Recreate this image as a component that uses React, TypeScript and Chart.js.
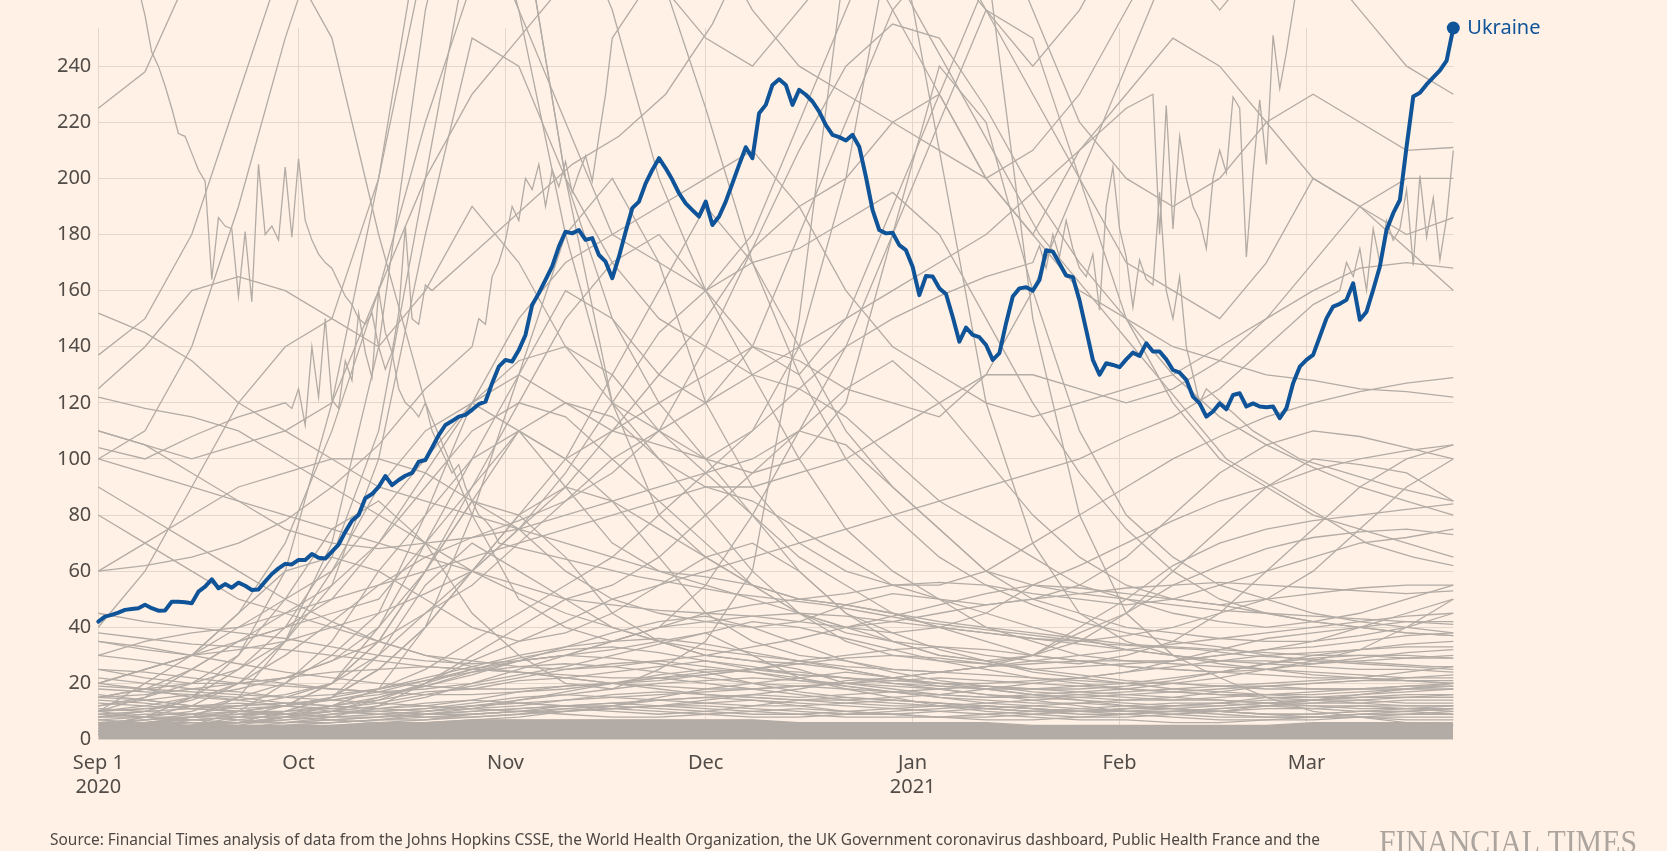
import { useEffect, useRef } from 'react';
import { Chart, registerables } from 'chart.js';

Chart.register(...registerables);

const BG = '#fff1e5';
const BLUE = '#0f5499';
const GREY = '#b3aba5';
const GRID = '#e3d6cb';
const TXT = '#524c48';

// x axis: day index from Sep 1 2020
const xTickDays = [0, 30, 61, 91, 122, 153, 181];
const xTickLabels: (string | string[])[] = [['Sep 1', '2020'], 'Oct', 'Nov', 'Dec', ['Jan', '2021'], 'Feb', 'Mar'];
const yTicks = [0, 20, 40, 60, 80, 100, 120, 140, 160, 180, 200, 220, 240];

// Ukraine, daily from Sep 1 2020 to Mar 23 2021
const ukraine = [
  42.0, 43.8, 44.4, 45.2, 46.2, 46.5, 46.8, 48.0, 46.8, 45.9,
  46.0, 49.1, 49.1, 48.9, 48.6, 52.7, 54.5, 57.1, 53.9, 55.4,
  54.1, 55.9, 54.8, 53.3, 53.5, 56.3, 59.0, 61.0, 62.6, 62.4,
  64.0, 64.0, 66.1, 64.8, 64.5, 67.0, 69.5, 74.0, 78.0, 80.0,
  86.0, 87.5, 90.0, 93.9, 90.7, 92.5, 94.0, 95.0, 99.0, 99.6,
  104.0, 108.5, 112.1, 113.5, 115.1, 115.7, 117.5, 119.5, 120.4, 127.0,
  132.9, 135.3, 134.7, 138.8, 144.2, 154.9, 159.1, 163.8, 168.6, 175.7,
  181.0, 180.4, 181.6, 178.1, 178.7, 172.7, 170.3, 164.4, 172.1, 181.0,
  189.4, 191.7, 198.2, 203.0, 207.2, 203.6, 199.5, 194.7, 191.1, 188.7,
  186.4, 191.7, 183.4, 186.4, 191.7, 198.2, 204.8, 211.1, 207.2, 223.2,
  226.2, 233.3, 235.3, 233.3, 226.2, 231.6, 229.8, 227.4, 223.8, 219.0,
  215.5, 214.7, 213.5, 215.5, 211.3, 200.6, 188.7, 181.6, 180.4, 180.6,
  176.2, 174.4, 168.5, 158.4, 165.2, 165.0, 160.8, 158.8, 150.7, 141.8,
  146.8, 144.2, 143.4, 140.6, 135.3, 137.7, 148.4, 157.9, 160.8, 161.2,
  160.0, 163.8, 174.4, 173.9, 169.7, 165.4, 164.8, 156.5, 146.0, 135.3,
  130.0, 134.1, 133.5, 132.7, 135.5, 137.9, 136.7, 141.2, 138.3, 138.3,
  135.5, 131.7, 130.8, 128.2, 122.2, 119.8, 115.1, 116.9, 119.8, 117.7,
  122.8, 123.4, 118.7, 119.8, 118.7, 118.4, 118.7, 114.5, 118.1, 127.0,
  132.9, 135.3, 137.1, 143.6, 150.1, 154.3, 155.3, 156.7, 162.6, 149.6,
  152.5, 160.3, 168.6, 181.6, 187.6, 192.3, 211.3, 229.2, 230.5, 233.5,
  236.0, 238.5, 242.0, 253.6,
];

// Other countries, sampled weekly
const greyDays = [0, 7, 14, 21, 28, 35, 42, 49, 56, 63, 70, 77, 84, 91, 98, 105, 112, 119, 126, 133, 140, 147, 154, 161, 168, 175, 182, 189, 196, 203];

const g01 = [225, 238, 275, 320, 340, 350, 350, 340, 330, 320, 310, 300, 275, 225, 170, 130, 100, 80, 65, 55, 48, 42, 38, 35, 33, 30, 28, 27, 26, 25];
const g03 = [8, 10, 14, 20, 30, 42, 55, 65, 72, 78, 85, 95, 110, 140, 175, 210, 240, 255, 250, 225, 195, 170, 150, 130, 115, 105, 97, 90, 85, 80];
const g04 = [8, 10, 15, 25, 40, 65, 110, 200, 290, 320, 300, 260, 200, 160, 140, 130, 150, 190, 230, 270, 300, 320, 300, 280, 260, 280, 320, 340, 330, 320];
const g05 = [5, 8, 12, 20, 35, 70, 140, 260, 330, 300, 200, 120, 80, 65, 55, 50, 48, 45, 40, 38, 36, 35, 37, 40, 45, 50, 60, 75, 90, 100];
const g06 = [20, 25, 30, 45, 70, 110, 160, 220, 270, 300, 310, 290, 270, 250, 240, 260, 280, 300, 290, 260, 230, 200, 170, 160, 150, 170, 200, 190, 175, 160];
const g07 = [15, 18, 20, 25, 35, 55, 100, 180, 250, 240, 200, 170, 150, 140, 130, 125, 115, 100, 85, 75, 65, 55, 50, 45, 42, 40, 42, 45, 50, 55];
const g08 = [3, 5, 8, 15, 35, 60, 90, 110, 120, 110, 100, 110, 130, 150, 175, 190, 200, 220, 230, 200, 180, 210, 230, 250, 240, 220, 200, 190, 180, 186];
const g09 = [35, 32, 30, 32, 35, 40, 45, 52, 60, 75, 95, 120, 145, 160, 170, 175, 185, 195, 180, 150, 120, 95, 75, 60, 50, 45, 42, 40, 38, 37];
const g10 = [152, 145, 135, 120, 110, 100, 90, 85, 80, 75, 70, 65, 60, 58, 55, 50, 48, 45, 42, 40, 38, 36, 34, 33, 32, 31, 30, 30, 29, 29];
const g11 = [137, 150, 180, 230, 280, 250, 180, 120, 80, 50, 40, 35, 40, 55, 80, 110, 140, 180, 220, 260, 250, 200, 150, 120, 100, 90, 80, 75, 70, 65];
const g12 = [125, 140, 160, 165, 160, 150, 140, 160, 190, 170, 140, 120, 110, 100, 95, 100, 120, 180, 240, 220, 160, 110, 80, 65, 55, 50, 45, 42, 40, 38];
const g13 = [40, 60, 90, 120, 140, 150, 200, 280, 320, 260, 180, 120, 100, 90, 90, 95, 100, 110, 120, 130, 130, 125, 120, 125, 135, 150, 170, 190, 200, 200];
const g14 = [110, 105, 100, 105, 110, 120, 160, 200, 230, 250, 270, 290, 310, 290, 260, 240, 230, 220, 210, 200, 210, 230, 260, 290, 320, 330, 320, 300, 290, 280];
const g15 = [100, 110, 140, 190, 250, 300, 320, 330, 300, 260, 220, 180, 170, 160, 180, 220, 260, 300, 320, 300, 260, 220, 200, 190, 200, 220, 230, 220, 210, 211];
const g16 = [15, 18, 25, 35, 45, 55, 70, 95, 120, 130, 120, 110, 105, 100, 110, 140, 200, 290, 340, 280, 150, 80, 45, 30, 22, 15, 10, 8, 6, 5];
const g17 = [12, 15, 20, 30, 50, 75, 85, 70, 45, 30, 20, 18, 25, 35, 60, 150, 280, 300, 210, 120, 70, 45, 35, 30, 27, 25, 23, 22, 21, 20];
const g18 = [8, 8, 10, 15, 20, 30, 45, 80, 120, 150, 170, 180, 190, 200, 210, 190, 160, 140, 130, 120, 115, 120, 125, 130, 140, 150, 160, 168, 170, 168];
const g19 = [5, 6, 8, 10, 12, 20, 30, 45, 60, 75, 90, 110, 120, 130, 140, 135, 125, 120, 115, 130, 160, 200, 240, 280, 320, 360, 380, 370, 350, 330];
const g20 = [10, 15, 25, 35, 40, 50, 70, 90, 110, 120, 115, 100, 85, 70, 55, 45, 40, 38, 40, 45, 55, 62, 70, 78, 85, 90, 96, 100, 103, 105];
const g21 = [10, 8, 6, 6, 8, 12, 18, 40, 80, 130, 180, 200, 170, 120, 90, 70, 60, 55, 55, 60, 70, 80, 90, 100, 108, 115, 120, 124, 127, 129];
const g22 = [10, 20, 30, 45, 60, 65, 60, 50, 40, 35, 38, 45, 55, 65, 70, 60, 45, 35, 30, 28, 25, 26, 27, 28, 30, 32, 33, 35, 37, 38];
const g23 = [5, 7, 9, 12, 15, 20, 35, 60, 85, 80, 65, 45, 35, 30, 28, 25, 20, 18, 16, 15, 16, 17, 18, 20, 22, 25, 27, 29, 31, 32];
const g24 = [4, 6, 8, 10, 12, 15, 30, 55, 70, 60, 50, 40, 35, 30, 28, 27, 25, 22, 20, 20, 21, 22, 24, 28, 32, 36, 38, 40, 42, 42];
const g25 = [3, 4, 5, 6, 8, 10, 15, 20, 25, 28, 30, 32, 35, 38, 30, 22, 18, 15, 12, 10, 9, 8, 8, 9, 10, 12, 14, 16, 18, 19];
const g26 = [3, 4, 5, 8, 12, 20, 40, 70, 100, 110, 90, 70, 60, 55, 50, 45, 38, 35, 33, 30, 28, 27, 30, 35, 45, 60, 75, 90, 100, 105];
const g27 = [20, 25, 30, 35, 40, 45, 50, 70, 90, 120, 150, 170, 180, 160, 130, 100, 75, 60, 50, 40, 35, 30, 28, 28, 30, 32, 35, 40, 45, 50];
const g28 = [3, 4, 5, 6, 10, 15, 25, 40, 60, 80, 100, 130, 160, 190, 170, 140, 110, 90, 75, 60, 50, 45, 40, 38, 36, 35, 35, 37, 40, 45];
const g29 = [2, 3, 3, 4, 6, 8, 12, 20, 30, 40, 50, 55, 65, 80, 95, 110, 105, 90, 75, 60, 55, 52, 50, 48, 46, 45, 44, 43, 42, 41];
const g30 = [45, 42, 40, 38, 36, 33, 30, 28, 27, 28, 30, 35, 40, 45, 48, 50, 52, 55, 56, 55, 52, 50, 48, 50, 55, 60, 65, 70, 72, 75];
const g31 = [60, 70, 80, 90, 95, 100, 100, 95, 85, 75, 60, 50, 45, 42, 40, 42, 48, 52, 50, 45, 40, 36, 32, 30, 28, 28, 27, 28, 29, 30];
const g32 = [100, 95, 90, 85, 80, 75, 70, 65, 60, 55, 50, 48, 46, 45, 44, 42, 40, 42, 45, 48, 50, 52, 54, 55, 56, 55, 54, 53, 52, 53];
const g33 = [110, 105, 95, 85, 75, 70, 68, 70, 72, 75, 80, 85, 90, 95, 100, 110, 125, 135, 120, 100, 80, 65, 55, 50, 48, 45, 42, 40, 38, 37];
const g34 = [20, 25, 30, 40, 50, 60, 80, 100, 120, 135, 140, 130, 110, 95, 80, 65, 55, 45, 40, 35, 30, 28, 26, 25, 24, 25, 28, 32, 40, 50];
const g35 = [2, 3, 5, 10, 20, 35, 60, 80, 100, 130, 160, 150, 120, 100, 80, 60, 45, 38, 32, 28, 24, 22, 20, 18, 17, 16, 16, 17, 18, 20];
const g36 = [30, 35, 38, 40, 45, 50, 55, 60, 65, 70, 75, 80, 85, 90, 85, 75, 65, 55, 50, 48, 50, 55, 65, 80, 95, 105, 110, 108, 104, 100];
const g37 = [20, 18, 15, 14, 16, 20, 35, 60, 90, 110, 100, 85, 75, 65, 55, 45, 40, 35, 30, 28, 30, 35, 45, 60, 75, 90, 100, 98, 95, 85];
const g38 = [5, 6, 7, 8, 10, 15, 25, 40, 60, 80, 90, 85, 65, 45, 35, 30, 28, 25, 24, 26, 30, 40, 50, 62, 70, 75, 78, 80, 82, 84];
const g39 = [25, 22, 20, 20, 22, 28, 40, 60, 85, 110, 120, 115, 100, 80, 60, 45, 35, 30, 28, 27, 30, 38, 45, 55, 62, 68, 72, 74, 75, 73];
const g40 = [15, 14, 12, 10, 9, 10, 12, 15, 20, 25, 30, 35, 40, 42, 44, 45, 44, 42, 40, 38, 36, 34, 32, 30, 28, 27, 26, 25, 25, 24];
const g41 = [38, 36, 34, 33, 32, 30, 28, 26, 25, 24, 23, 22, 22, 23, 25, 28, 30, 32, 33, 32, 30, 28, 26, 25, 24, 23, 22, 22, 21, 21];
const g42 = [80, 70, 60, 50, 45, 40, 35, 30, 28, 26, 25, 26, 28, 30, 33, 36, 40, 44, 48, 52, 55, 54, 52, 50, 48, 50, 52, 54, 55, 55];
const g43 = [90, 80, 70, 60, 50, 42, 35, 30, 26, 24, 22, 20, 19, 18, 18, 19, 20, 22, 24, 26, 28, 30, 32, 34, 36, 38, 40, 42, 44, 45];
const g44 = [122, 118, 115, 110, 100, 90, 80, 70, 60, 52, 45, 40, 35, 32, 30, 28, 26, 25, 24, 23, 22, 21, 20, 20, 19, 19, 18, 18, 18, 18];
const g45 = [5, 8, 15, 30, 60, 120, 200, 300, 350, 300, 200, 150, 130, 120, 140, 180, 220, 260, 280, 260, 240, 260, 290, 310, 320, 300, 280, 260, 240, 230];

const l01 = [12, 14, 16, 15, 13, 12, 11, 12, 14, 17, 19, 20, 22, 20, 18, 16, 14, 13, 12, 11, 10, 10, 11, 12, 13, 15, 15, 16, 17, 18];
const l02 = [18, 17, 16, 14, 12, 10, 9, 8, 8, 9, 11, 12, 15, 18, 20, 22, 24, 22, 19, 18, 16, 14, 12, 11, 10, 9, 9, 10, 10, 11];
const l03 = [6, 7, 8, 9, 10, 12, 14, 17, 18, 21, 22, 24, 26, 28, 26, 23, 22, 20, 18, 16, 15, 14, 13, 12, 12, 13, 14, 15, 16, 16];
const l04 = [22, 20, 18, 17, 15, 14, 13, 12, 11, 10, 10, 11, 12, 14, 16, 18, 21, 22, 24, 26, 27, 28, 28, 27, 26, 25, 24, 23, 22, 22];
const l05 = [9, 10, 11, 10, 9, 8, 8, 9, 10, 11, 12, 12, 11, 10, 9, 9, 10, 11, 12, 13, 14, 15, 16, 17, 18, 19, 20, 21, 22, 23];
const l06 = [3, 4, 5, 7, 9, 12, 15, 19, 24, 28, 30, 29, 27, 24, 20, 17, 15, 14, 13, 12, 11, 10, 10, 10, 11, 12, 13, 14, 15, 15];
const l07 = [15, 16, 18, 20, 22, 24, 25, 26, 25, 24, 22, 20, 18, 16, 15, 14, 14, 15, 16, 18, 20, 22, 24, 26, 28, 30, 31, 32, 33, 33];
const l08 = [5, 5, 6, 6, 7, 8, 9, 10, 12, 14, 16, 18, 20, 21, 22, 21, 20, 19, 18, 16, 14, 12, 10, 9, 8, 8, 8, 9, 9, 10];
const l09 = [25, 24, 22, 20, 19, 18, 17, 18, 20, 23, 26, 30, 34, 38, 42, 40, 36, 32, 28, 25, 22, 20, 18, 17, 16, 16, 15, 15, 15, 15];
const l10 = [2, 2, 3, 3, 4, 5, 6, 7, 9, 10, 12, 13, 14, 15, 16, 15, 16, 17, 18, 19, 18, 17, 16, 15, 14, 13, 12, 12, 11, 11];
const l11 = [14, 13, 11, 10, 10, 11, 13, 16, 19, 22, 25, 27, 28, 26, 24, 21, 19, 17, 15, 14, 13, 13, 14, 15, 17, 19, 20, 21, 21, 20];
const l12 = [30, 28, 25, 22, 20, 18, 17, 16, 16, 17, 18, 20, 22, 24, 25, 24, 22, 20, 19, 18, 18, 19, 20, 22, 24, 27, 30, 32, 34, 35];
const l13 = [8, 9, 9, 10, 12, 15, 18, 22, 26, 30, 33, 35, 36, 34, 31, 28, 25, 22, 20, 18, 16, 15, 14, 14, 15, 16, 17, 18, 19, 19];
const l14 = [4, 5, 5, 6, 6, 7, 8, 9, 10, 11, 12, 13, 12, 11, 10, 9, 8, 8, 8, 9, 10, 11, 12, 13, 13, 14, 14, 15, 15, 16];
const l15 = [19, 18, 17, 16, 15, 16, 18, 21, 24, 26, 27, 26, 24, 22, 20, 19, 18, 17, 16, 15, 15, 16, 17, 18, 19, 20, 21, 22, 24, 26];
const l16 = [10, 11, 12, 12, 13, 14, 16, 19, 23, 28, 33, 38, 42, 44, 40, 34, 28, 24, 21, 19, 17, 16, 15, 14, 14, 13, 13, 13, 14, 14];
const l17 = [7, 8, 8, 9, 9, 10, 10, 11, 12, 13, 14, 15, 16, 17, 18, 19, 20, 21, 22, 21, 20, 19, 18, 17, 16, 15, 14, 13, 12, 12];
const l18 = [35, 33, 30, 27, 24, 22, 20, 19, 18, 18, 19, 20, 21, 23, 25, 27, 29, 30, 29, 27, 25, 23, 21, 20, 19, 18, 18, 18, 19, 20];
const l19 = [16, 14, 12, 11, 12, 14, 17, 21, 25, 29, 32, 33, 31, 28, 25, 23, 22, 21, 20, 19, 18, 18, 19, 21, 24, 27, 29, 30, 30, 29];
const l20 = [3, 3, 4, 4, 5, 6, 7, 9, 11, 14, 17, 20, 23, 25, 24, 22, 19, 17, 15, 13, 12, 11, 10, 10, 10, 11, 11, 12, 12, 12];
const ll01 = [6, 7, 8, 7, 6, 6, 7, 8, 9, 10, 9, 8, 8, 9, 10, 11, 10, 9, 8, 7, 7, 8, 9, 10, 9, 8, 8, 9, 10, 9];
const ll02 = [9, 8, 7, 6, 6, 7, 8, 10, 12, 13, 12, 11, 10, 9, 8, 8, 9, 10, 11, 12, 11, 10, 9, 8, 7, 7, 8, 8, 9, 9];
const ll03 = [4, 5, 6, 6, 7, 9, 11, 13, 14, 13, 12, 11, 12, 13, 14, 13, 12, 11, 10, 9, 8, 7, 7, 6, 6, 7, 7, 8, 8, 8];
const ll04 = [11, 10, 9, 8, 8, 9, 10, 11, 13, 15, 16, 15, 14, 13, 12, 12, 13, 14, 13, 12, 11, 10, 10, 11, 12, 13, 14, 14, 13, 13];
const ll05 = [7, 6, 6, 5, 5, 6, 7, 7, 8, 9, 10, 11, 12, 12, 11, 10, 9, 9, 10, 11, 12, 13, 12, 11, 10, 9, 9, 10, 11, 12];
const ll06 = [13, 12, 11, 12, 13, 12, 11, 10, 11, 12, 14, 16, 17, 16, 15, 14, 13, 12, 12, 11, 10, 9, 9, 10, 11, 12, 12, 11, 11, 10];
const ll07 = [5, 6, 7, 8, 8, 7, 6, 6, 7, 8, 10, 12, 14, 15, 14, 12, 10, 9, 8, 8, 9, 10, 11, 11, 10, 9, 8, 8, 7, 7];
const ll08 = [10, 11, 12, 13, 12, 11, 10, 9, 9, 10, 11, 10, 9, 10, 12, 14, 15, 14, 13, 11, 10, 10, 11, 12, 13, 12, 11, 10, 10, 11];

// dense overlapping mass of small countries near zero
const lowBand = [6, 6, 5, 5, 5, 5, 6, 6, 7, 7, 7, 7, 7, 7, 7, 6, 6, 6, 6, 6, 5, 5, 5, 5, 5, 5, 6, 6, 6, 6];

// jagged countries with mixed sampling: [first day, day step, values]
type Seg = [number, number, number[]];
const s1: Seg[] = [
  [0, 1, [300, 295, 290, 285, 280, 275, 268, 258, 245, 240, 233, 225, 216, 215, 209, 203, 199, 164, 186, 183, 182, 158, 181, 156, 205, 180, 183, 178, 204, 179, 207, 185, 178, 173, 170, 168, 163, 158, 155, 150, 148, 152, 140, 132, 138, 125, 120, 118, 115, 120, 110, 105, 100, 95, 98, 90, 85, 80, 78, 75, 70]],
  [67, 7, [66, 62, 58, 55, 52, 50, 48, 45, 42, 40, 38, 36, 34, 33, 32, 30, 29, 28, 27, 26]],
  [203, 1, [26]],
];
const s2: Seg[] = [
  [0, 7, [104, 100, 108, 115]],
  [28, 1, [120, 118, 125, 112, 140, 122, 150, 121, 118, 135, 128, 152, 138, 129, 160, 145, 138, 152, 183, 150, 148, 162, 160]],
  [57, 7, [175, 190, 205, 215, 230, 255, 290, 310, 300, 270, 240, 210, 180, 160, 140, 120, 100, 90, 80, 70, 65]],
  [203, 1, [62]],
];
const s3: Seg[] = [
  [0, 7, [60, 62, 65, 70, 78, 90, 105, 125]],
  [56, 1, [140, 150, 148, 165, 170, 178, 190, 185, 200, 196, 205, 190, 203, 197, 206, 195, 202, 208, 199, 215, 230, 250]],
  [84, 7, [275, 300, 320, 310, 290, 260, 230, 200, 180, 160, 150, 140, 135, 130, 128, 125, 124, 122]],
];
const s4: Seg[] = [
  [0, 7, [2, 3, 4, 5, 8, 12, 18, 25, 35, 45, 55, 65, 80, 95, 110, 125, 140, 150, 158, 165]],
  [140, 1, [170, 176, 168, 180, 172, 185, 175, 168, 165, 173, 153, 190, 204, 182, 172, 154, 171, 164, 162, 195, 160, 150, 165, 140, 130, 120, 125]],
  [173, 7, [110, 100, 95, 90]],
  [203, 1, [85]],
];
const s5: Seg[] = [
  [0, 7, [10, 12, 15, 18, 22, 28, 35, 45, 55, 70, 85, 100, 110, 120, 130, 140, 150, 160, 170, 180, 195, 210, 225]],
  [158, 1, [230, 180, 226, 182, 215, 200, 190, 185, 175, 200, 210, 202, 229, 225, 172, 202, 228, 205, 251, 232, 245, 260, 275]],
  [187, 7, [300, 320]],
  [203, 1, [330]],
];
const s6: Seg[] = [
  [0, 7, [3, 4, 5, 6, 8, 10, 14, 20, 28, 35, 42, 50, 55, 60, 65, 70, 75, 80, 85, 90, 95, 100, 108, 115, 125, 140, 155]],
  [186, 1, [160, 170, 165, 175, 160, 182, 170, 185, 178, 182, 196, 169, 201, 179, 193, 171, 186, 210]],
];

const greySeries = [
  g01, g03, g04, g05, g06, g07, g08, g09, g10, g11, g12, g13, g14, g15,
  g16, g17, g18, g19, g20, g21, g22, g23, g24, g25, g26, g27, g28, g29, g30,
  g31, g32, g33, g34, g35, g36, g37, g38, g39, g40, g41, g42, g43, g44, g45,
  l01, l02, l03, l04, l05, l06, l07, l08, l09, l10, l11, l12, l13, l14, l15,
  l16, l17, l18, l19, l20, ll01, ll02, ll03, ll04, ll05, ll06, ll07, ll08,
];
const jaggedSeries = [s1, s2, s3, s4, s5, s6];

const SOURCE = 'Source: Financial Times analysis of data from the Johns Hopkins CSSE, the World Health Organization, the UK Government coronavirus dashboard, Public Health France and the';

const textPlugin = {
  id: 'ftText',
  afterDraw(chart: any) {
    const ctx = chart.ctx as CanvasRenderingContext2D;
    const meta = chart.getDatasetMeta(0);
    const last = meta.data[meta.data.length - 1];
    ctx.save();
    ctx.font = '20px "Noto Sans"';
    ctx.fillStyle = BLUE;
    ctx.textAlign = 'left';
    ctx.textBaseline = 'middle';
    ctx.fillText('Ukraine', last.x + 14, last.y);

    ctx.font = '16px "Noto Sans"';
    ctx.fillStyle = '#4d4845';
    ctx.textBaseline = 'alphabetic';
    ctx.fillText(SOURCE, 50, 845, 1270);

    ctx.font = '34px "Liberation Serif"';
    ctx.fillStyle = '#aca59f';
    ctx.fillText('FINANCIAL TIMES', 1379, 853, 258);
    ctx.restore();
  },
};

const greyStyle = {
  borderColor: GREY,
  borderWidth: 1.3,
  pointRadius: 0,
  clip: false as any,
  fill: false,
};

export default function App() {
  const ref = useRef<HTMLCanvasElement>(null);
  useEffect(() => {
    document.body.style.margin = '0';
    document.body.style.background = BG;
    const greyDatasets = greySeries.map((s) => ({
      ...greyStyle,
      data: s.map((v, i) => ({ x: greyDays[i], y: v })),
    }));
    const jaggedDatasets = jaggedSeries.map((segs) => ({
      ...greyStyle,
      data: segs.flatMap(([start, step, vals]) => vals.map((v, i) => ({ x: start + step * i, y: v }))),
    }));
    const bandDataset = {
      data: lowBand.map((v, i) => ({ x: greyDays[i], y: v })),
      borderColor: GREY,
      backgroundColor: GREY,
      borderWidth: 1.3,
      pointRadius: 0,
      fill: 'origin',
    };
    const chart = new Chart(ref.current!, {
      type: 'line',
      data: {
        datasets: [
          {
            data: ukraine.map((v, i) => ({ x: i, y: v })),
            borderColor: BLUE,
            borderWidth: 4,
            borderJoinStyle: 'round',
            borderCapStyle: 'round',
            pointRadius: (c: any) => (c.dataIndex === ukraine.length - 1 ? 6.5 : 0),
            pointBackgroundColor: BLUE,
            pointBorderWidth: 0,
            clip: false as any,
            fill: false,
          } as any,
          ...jaggedDatasets,
          ...greyDatasets,
          bandDataset as any,
        ],
      },
      options: {
        animation: false,
        responsive: false,
        devicePixelRatio: 1,
        events: [],
        layout: { padding: { top: 28, right: 213.7, left: 0, bottom: 0 } },
        plugins: { legend: { display: false }, tooltip: { enabled: false } },
        scales: {
          x: {
            type: 'linear',
            min: 0,
            max: 203,
            border: { display: false },
            grid: { color: GRID, lineWidth: 1, drawTicks: false },
            afterBuildTicks: (s: any) => {
              s.ticks = xTickDays.map((v) => ({ value: v }));
            },
            afterFit: (s: any) => {
              s.height = 111.5;
            },
            ticks: {
              autoSkip: false,
              maxRotation: 0,
              padding: 11,
              color: TXT,
              font: { family: '"Noto Sans"', size: 20, lineHeight: 1.23 },
              callback: (_v: any, i: number) => xTickLabels[i],
            },
          },
          y: {
            type: 'linear',
            min: 0,
            max: 253.6,
            border: { display: false },
            grid: { color: GRID, lineWidth: 1, drawTicks: false },
            afterBuildTicks: (s: any) => {
              s.ticks = yTicks.map((v) => ({ value: v }));
            },
            afterFit: (s: any) => {
              s.width = 98.3;
            },
            ticks: {
              padding: 7,
              color: TXT,
              font: { family: '"Noto Sans"', size: 20 },
            },
          },
        },
      } as any,
      plugins: [textPlugin],
    });
    return () => chart.destroy();
  }, []);
  return (
    <div style={{ position: 'absolute', left: 0, top: 0, width: 1667, height: 851, background: BG, overflow: 'hidden' }}>
      <canvas ref={ref} width={1667} height={851} style={{ display: 'block', width: 1667, height: 851 }} />
    </div>
  );
}
